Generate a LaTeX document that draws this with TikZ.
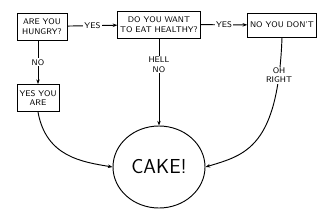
\documentclass[tikz,border=0pt]{standalone}
\usepackage{tikz}
\usetikzlibrary{arrows.meta, shapes.geometric}

\begin{document}
\begin{tikzpicture}[x=0.03cm, y=-0.03cm,
    box/.style={draw, thick, align=center, font=\sffamily\scriptsize, inner sep=2pt},
    lbl/.style={fill=white, font=\sffamily\scriptsize, inner sep=1pt, align=center},
    arr/.style={thick, -{Stealth[length=4pt]}}]
    \useasboundingbox (0,0) rectangle (320,223);

    % questions along the top
    \node[box, minimum width=50*0.03cm, minimum height=27*0.03cm] (hungry) at (42,26.5) {ARE YOU\\HUNGRY?};
    \node[box, minimum width=82*0.03cm, minimum height=27*0.03cm] (healthy) at (159,24.5) {DO YOU WANT\\TO EAT HEALTHY?};
    \node[box, minimum width=57*0.03cm, minimum height=24*0.03cm] (dont) at (282,25) {NO YOU DON'T};

    % left answer
    \node[box, minimum width=42*0.03cm, minimum height=27*0.03cm] (yesare) at (38,98) {YES YOU\\ARE};

    % the end
    \node[draw, thick, ellipse, minimum width=92*0.03cm, minimum height=82*0.03cm,
        font=\sffamily\LARGE] (cake) at (159,167) {CAKE!};

    % yes branches
    \draw[arr] (hungry) -- node[lbl] {YES} (healthy);
    \draw[arr] (healthy) -- node[lbl] {YES} (dont);

    % no branches
    \draw[arr] (hungry.south -| yesare) -- node[lbl] {NO} (yesare);
    \draw[arr] (healthy) -- node[lbl, pos=0.3] {HELL\\NO} (cake);

    % curved arrows into the cake
    \draw[arr] (yesare.south) .. controls +(8,45) and +(-30,-5) .. (cake.west);
    \draw[arr] (dont.south) .. controls +(-4,110) and +(40,-12) .. node[lbl, pos=0.13] {OH\\RIGHT} (cake.east);
\end{tikzpicture}
\end{document}
